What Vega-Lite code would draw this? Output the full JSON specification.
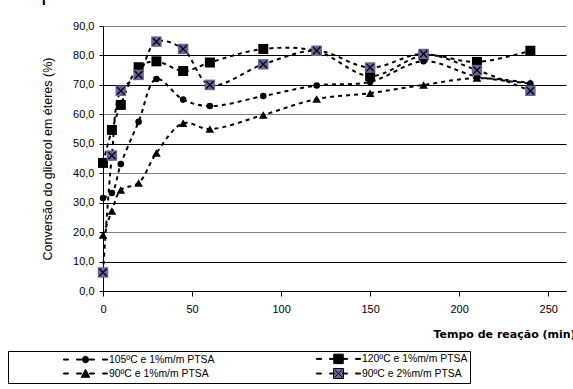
{
  "$schema": "https://vega.github.io/schema/vega-lite/v6.json",
  "width": 463,
  "height": 265,
  "autosize": {"type": "none"},
  "padding": {"left": 103, "top": 26, "right": 7, "bottom": 98},
  "background": "white",
  "title": {"text": "temperaturas", "anchor": "start", "frame": "group", "fontSize": 23, "font": "Liberation Sans", "fontWeight": "normal", "baseline": "alphabetic", "offset": 8, "dx": -100, "dy": 11, "color": "#000"},
  "data": {"values": [
    {"s": "105ºC e 1%m/m PTSA", "t": 0, "v": 31.6},
    {"s": "105ºC e 1%m/m PTSA", "t": 5, "v": 33.3},
    {"s": "105ºC e 1%m/m PTSA", "t": 10, "v": 43.1},
    {"s": "105ºC e 1%m/m PTSA", "t": 20, "v": 57.5},
    {"s": "105ºC e 1%m/m PTSA", "t": 30, "v": 72.0},
    {"s": "105ºC e 1%m/m PTSA", "t": 45, "v": 65.0},
    {"s": "105ºC e 1%m/m PTSA", "t": 60, "v": 62.8},
    {"s": "105ºC e 1%m/m PTSA", "t": 90, "v": 66.2},
    {"s": "105ºC e 1%m/m PTSA", "t": 120, "v": 69.8},
    {"s": "105ºC e 1%m/m PTSA", "t": 150, "v": 71.0},
    {"s": "105ºC e 1%m/m PTSA", "t": 180, "v": 78.0},
    {"s": "105ºC e 1%m/m PTSA", "t": 210, "v": 72.8},
    {"s": "105ºC e 1%m/m PTSA", "t": 240, "v": 70.5},
    {"s": "120ºC e 1%m/m PTSA", "t": 0, "v": 43.5},
    {"s": "120ºC e 1%m/m PTSA", "t": 5, "v": 54.7},
    {"s": "120ºC e 1%m/m PTSA", "t": 10, "v": 63.2},
    {"s": "120ºC e 1%m/m PTSA", "t": 20, "v": 76.0},
    {"s": "120ºC e 1%m/m PTSA", "t": 30, "v": 78.0},
    {"s": "120ºC e 1%m/m PTSA", "t": 45, "v": 74.7},
    {"s": "120ºC e 1%m/m PTSA", "t": 60, "v": 77.6},
    {"s": "120ºC e 1%m/m PTSA", "t": 90, "v": 82.2},
    {"s": "120ºC e 1%m/m PTSA", "t": 120, "v": 81.5},
    {"s": "120ºC e 1%m/m PTSA", "t": 150, "v": 73.0},
    {"s": "120ºC e 1%m/m PTSA", "t": 180, "v": 80.0},
    {"s": "120ºC e 1%m/m PTSA", "t": 210, "v": 77.8},
    {"s": "120ºC e 1%m/m PTSA", "t": 240, "v": 81.6},
    {"s": "90ºC e 1%m/m PTSA", "t": 0, "v": 19.0},
    {"s": "90ºC e 1%m/m PTSA", "t": 5, "v": 27.2},
    {"s": "90ºC e 1%m/m PTSA", "t": 10, "v": 34.3},
    {"s": "90ºC e 1%m/m PTSA", "t": 20, "v": 36.7},
    {"s": "90ºC e 1%m/m PTSA", "t": 30, "v": 46.9},
    {"s": "90ºC e 1%m/m PTSA", "t": 45, "v": 57.0},
    {"s": "90ºC e 1%m/m PTSA", "t": 60, "v": 55.0},
    {"s": "90ºC e 1%m/m PTSA", "t": 90, "v": 59.8},
    {"s": "90ºC e 1%m/m PTSA", "t": 120, "v": 65.2},
    {"s": "90ºC e 1%m/m PTSA", "t": 150, "v": 67.2},
    {"s": "90ºC e 1%m/m PTSA", "t": 180, "v": 70.0},
    {"s": "90ºC e 1%m/m PTSA", "t": 210, "v": 72.3},
    {"s": "90ºC e 1%m/m PTSA", "t": 240, "v": 70.6},
    {"s": "90ºC e 2%m/m PTSA", "t": 0, "v": 6.3},
    {"s": "90ºC e 2%m/m PTSA", "t": 5, "v": 46.0},
    {"s": "90ºC e 2%m/m PTSA", "t": 10, "v": 68.0},
    {"s": "90ºC e 2%m/m PTSA", "t": 20, "v": 73.4},
    {"s": "90ºC e 2%m/m PTSA", "t": 30, "v": 84.7},
    {"s": "90ºC e 2%m/m PTSA", "t": 45, "v": 82.2},
    {"s": "90ºC e 2%m/m PTSA", "t": 60, "v": 70.0},
    {"s": "90ºC e 2%m/m PTSA", "t": 90, "v": 77.0},
    {"s": "90ºC e 2%m/m PTSA", "t": 120, "v": 81.6},
    {"s": "90ºC e 2%m/m PTSA", "t": 150, "v": 75.9},
    {"s": "90ºC e 2%m/m PTSA", "t": 180, "v": 80.5},
    {"s": "90ºC e 2%m/m PTSA", "t": 210, "v": 75.0},
    {"s": "90ºC e 2%m/m PTSA", "t": 240, "v": 68.0}
  ]},
  "encoding": {
    "x": {"field": "t", "type": "quantitative", "scale": {"domain": [0, 260], "nice": false, "zero": false},
      "axis": {"values": [0, 50, 100, 150, 200, 250], "grid": false, "title": "Tempo de reação (min)", "titleFont": "DejaVu Sans", "titleFontSize": 11, "titleFontWeight": "bold", "titleAnchor": "start", "titleAlign": "left", "titleBaseline": "alphabetic", "titleX": 330, "titleY": 46, "labelFontSize": 11, "labelPadding": 7, "tickSize": 5, "domainColor": "#000", "tickColor": "#000", "labelColor": "#000", "titleColor": "#000", "labelFlush": false}},
    "y": {"field": "v", "type": "quantitative", "scale": {"domain": [0, 90], "nice": false},
      "axis": {"values": [0, 10, 20, 30, 40, 50, 60, 70, 80, 90], "labelExpr": "replace(format(datum.value, '.1f'), '.', ',')", "title": "Conversão do glicerol em éteres (%)", "titleFontSize": 12.5, "titleFontWeight": "normal", "titleX": -56, "titleBaseline": "middle", "labelFontSize": 11, "labelPadding": 5, "tickSize": 4, "domainColor": "#000", "tickColor": "#000", "labelColor": "#000", "titleColor": "#000",
        "grid": true, "gridColor": {"condition": {"test": "indexof([20, 40, 60, 90], datum.value) >= 0", "value": "#808080"}, "value": "#000000"}, "gridWidth": 1, "labelFlush": false}}
  },
  "layer": [
    {"mark": {"type": "line", "interpolate": "catmull-rom", "color": "#000", "strokeWidth": 2, "strokeDash": [4, 4]},
     "encoding": {"detail": {"field": "s"}}},
    {"transform": [{"filter": "datum.s == '105ºC e 1%m/m PTSA'"}],
     "mark": {"type": "point", "shape": "circle", "filled": true, "color": "#000", "size": 43, "opacity": 1}},
    {"transform": [{"filter": "datum.s == '120ºC e 1%m/m PTSA'"}],
     "mark": {"type": "point", "shape": "square", "filled": true, "color": "#000", "size": 100, "opacity": 1}},
    {"transform": [{"filter": "datum.s == '90ºC e 1%m/m PTSA'"}],
     "mark": {"type": "point", "shape": "triangle-up", "filled": true, "color": "#000", "size": 75, "opacity": 1}},
    {"transform": [{"filter": "datum.s == '90ºC e 2%m/m PTSA'"}],
     "mark": {"type": "point", "shape": "square", "filled": true, "color": "#666699", "size": 110, "opacity": 1}},
    {"transform": [{"filter": "datum.s == '90ºC e 2%m/m PTSA'"}],
     "mark": {"type": "point", "shape": "M-0.7,-0.7L0.7,0.7M-0.7,0.7L0.7,-0.7", "filled": false, "color": "#000", "strokeWidth": 1.3, "size": 110, "opacity": 1}},
    {"transform": [{"filter": "false"}],
     "mark": {"type": "point", "filled": true, "strokeWidth": 1, "opacity": 1},
     "encoding": {
       "shape": {"field": "s", "type": "nominal",
         "scale": {"domain": ["105ºC e 1%m/m PTSA", "120ºC e 1%m/m PTSA", "90ºC e 1%m/m PTSA", "90ºC e 2%m/m PTSA"],
           "range": [
             "M9.6,-0.1H10.6V0.1H9.6ZM12.2,-0.1H13.2V0.1H12.2ZM14.8,-0.1H15.8V0.1H14.8ZM17.4,-0.1H18.4V0.1H17.4ZM13.35,0A0.65,0.65 0 1,0 14.65,0A0.65,0.65 0 1,0 13.35,0Z",
             "M9.6,-0.1H10.6V0.1H9.6ZM12.2,-0.1H13.2V0.1H12.2ZM14.8,-0.1H15.8V0.1H14.8ZM17.4,-0.1H18.4V0.1H17.4ZM13.05,-0.95H14.95V0.95H13.05Z",
             "M9.6,-0.1H10.6V0.1H9.6ZM12.2,-0.1H13.2V0.1H12.2ZM14.8,-0.1H15.8V0.1H14.8ZM17.4,-0.1H18.4V0.1H17.4ZM14,-0.85L14.85,0.75H13.15Z",
             "M9.6,-0.1H10.6V0.1H9.6ZM12.2,-0.1H13.2V0.1H12.2ZM14.8,-0.1H15.8V0.1H14.8ZM17.4,-0.1H18.4V0.1H17.4ZM13,-1H15V1H13ZM13.3,-0.7L14.7,0.7M13.3,0.7L14.7,-0.7"
           ]},
         "legend": {"orient": "none", "legendX": -95, "legendY": 325, "columns": 2, "direction": "horizontal", "title": null, "strokeColor": "#000", "padding": 2, "labelFont": "Liberation Sans", "labelFontSize": 10.4, "labelColor": "#000", "labelOffset": 88, "symbolSize": 100, "symbolStrokeWidth": 1, "rowPadding": 0, "columnPadding": 48}},
       "fill": {"field": "s", "type": "nominal",
         "scale": {"domain": ["105ºC e 1%m/m PTSA", "120ºC e 1%m/m PTSA", "90ºC e 1%m/m PTSA", "90ºC e 2%m/m PTSA"], "range": ["#000", "#000", "#000", "#666699"]}},
       "stroke": {"field": "s", "type": "nominal",
         "scale": {"domain": ["105ºC e 1%m/m PTSA", "120ºC e 1%m/m PTSA", "90ºC e 1%m/m PTSA", "90ºC e 2%m/m PTSA"], "range": ["#000", "#000", "#000", "#000"]}}
     }}
  ],
  "config": {
    "font": "Liberation Sans",
    "view": {"stroke": null},
    "axis": {"labelFont": "Liberation Sans", "titleFont": "Liberation Sans"}
  }
}
